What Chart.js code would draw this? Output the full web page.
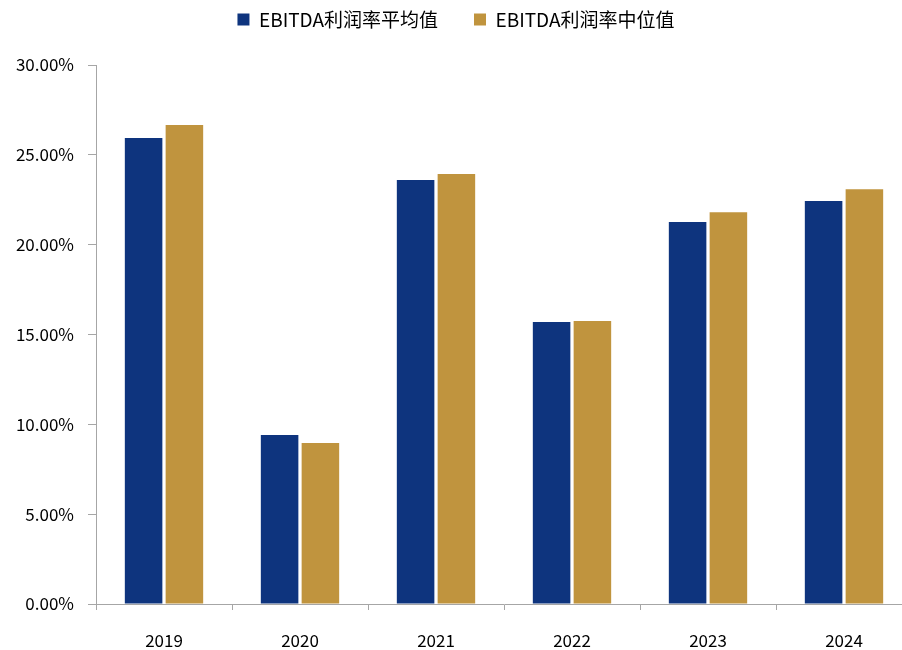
<!DOCTYPE html>
<html>
<head>
<meta charset="utf-8">
<script src="https://cdn.jsdelivr.net/npm/chart.js@4"></script>
<style>
  html, body { margin: 0; padding: 0; overflow: hidden; background: #fff; }
  #wrap { width: 912px; height: 650px; }
</style>
</head>
<body>
<div id="wrap"><canvas id="chart" width="912" height="650"></canvas></div>
<script>
// categories and values (percent)
const years = ['2019', '2020', '2021', '2022', '2023', '2024'];
const avgMargin = [25.93, 9.40, 23.60, 15.69, 21.26, 22.43];
const medianMargin = [26.66, 8.96, 23.93, 15.75, 21.81, 23.09];
const seriesNames = ['EBITDA利润率平均值', 'EBITDA利润率中位值'];

const fontFamily = "'Noto Sans CJK SC', 'Liberation Sans', sans-serif";
const axisColor = '#a6a6a6';

// legend sits at the very top, items spaced wide; fix its block height
const legendHeight = {
  id: 'legendHeight',
  beforeInit(chart) {
    const fit = chart.legend.fit;
    chart.legend.fit = function () {
      fit.bind(this)();
      this.height = 91;
    };
  },
};

const ctx = document.getElementById('chart').getContext('2d');
const chart = new Chart(ctx, {
  type: 'bar',
  data: {
    labels: years,
    datasets: [
      {
        label: seriesNames[0],
        data: avgMargin,
        backgroundColor: '#0e347e',
        categoryPercentage: 0.6,
        barPercentage: 0.92,
      },
      {
        label: seriesNames[1],
        data: medianMargin,
        backgroundColor: '#c0943e',
        categoryPercentage: 0.6,
        barPercentage: 0.92,
      },
    ],
  },
  plugins: [legendHeight],
  options: {
    responsive: false,
    animation: false,
    layout: { padding: { top: -26, left: 0, right: 0, bottom: 0 } },
    plugins: {
      tooltip: { enabled: false },
      legend: {
        position: 'top',
        labels: {
          boxWidth: 12,
          boxHeight: 12,
          padding: 36,
          color: '#000',
          font: { family: fontFamily, size: 19 },
        },
      },
    },
    scales: {
      x: {
        grid: {
          drawOnChartArea: false,
          drawTicks: true,
          tickLength: 6,
          color: axisColor,
        },
        border: { color: axisColor, width: 1 },
        ticks: {
          color: '#000',
          padding: 20,
          font: { family: fontFamily, size: 17 },
        },
        afterFit: (scale) => { scale.height = 46; },
      },
      y: {
        min: 0,
        max: 30,
        grid: {
          drawOnChartArea: false,
          drawTicks: true,
          tickLength: 8,
          color: axisColor,
        },
        border: { color: axisColor, width: 1 },
        ticks: {
          stepSize: 5,
          color: '#000',
          padding: 14,
          font: { family: fontFamily, size: 17 },
          callback: (v) => v.toFixed(2) + '%',
        },
        afterFit: (scale) => { scale.width = 96; },
      },
    },
  },
});
</script>
</body>
</html>
